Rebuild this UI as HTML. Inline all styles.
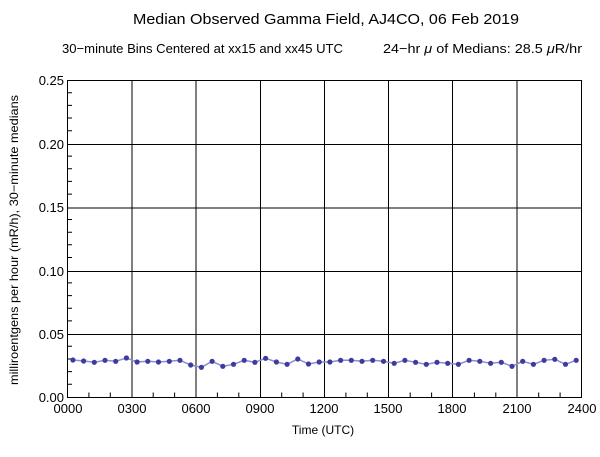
<!DOCTYPE html>
<html><head><meta charset="utf-8"><style>body{margin:0;background:#fff}svg{display:block}text{font-family:"Liberation Sans",sans-serif;fill:#000}</style></head><body>
<svg width="600" height="457" viewBox="0 0 600 457">
<text x="133" y="24" font-size="15" textLength="386" lengthAdjust="spacingAndGlyphs">Median Observed Gamma Field, AJ4CO, 06 Feb 2019</text>
<text x="62" y="53" font-size="13" textLength="281" lengthAdjust="spacingAndGlyphs">30−minute Bins Centered at xx15 and xx45 UTC</text>
<text x="383" y="53" font-size="13" textLength="199" lengthAdjust="spacingAndGlyphs">24−hr <tspan font-style="italic">μ</tspan> of Medians: 28.5 <tspan font-style="italic">μ</tspan>R/hr</text>
<g stroke="#000" stroke-width="1" fill="none">
<rect x="67.5" y="80.5" width="514" height="317"/>
<path d="M132 80V397M196 80V397M260.5 80V397M324.5 80V397M388.5 80V397M452.5 80V397M517 80V397"/>
<path d="M67 144.5H582M67 208H582M67 271.5H582M67 334.5H582"/>
</g>
<g stroke="#000" stroke-width="1" id="ticks"></g>
<g font-size="13" text-anchor="end">
<text x="64" y="85">0.25</text><text x="64" y="149">0.20</text><text x="64" y="212">0.15</text><text x="64" y="276">0.10</text><text x="64" y="339">0.05</text><text x="64" y="402">0.00</text>
</g>
<g font-size="13" text-anchor="middle">
<text x="68" y="413">0000</text><text x="132" y="413">0300</text><text x="196" y="413">0600</text><text x="260" y="413">0900</text><text x="324" y="413">1200</text><text x="388" y="413">1500</text><text x="452" y="413">1800</text><text x="517" y="413">2100</text><text x="582" y="413">2400</text>
</g>
<text x="323" y="434" font-size="12" text-anchor="middle">Time (UTC)</text>
<text transform="translate(18,240) rotate(-90)" font-size="12" text-anchor="middle" textLength="290" lengthAdjust="spacingAndGlyphs">milliroentgens per hour (mR/h), 30−minute medians</text>
<g id="data"></g>
</svg>
<script>
var ns="http://www.w3.org/2000/svg",t=document.getElementById("ticks"),s="";
for(var i=1;i<25;i++){if(i%3==0)continue;var x=67.5+i*514/24;s+="M"+x.toFixed(1)+" 397V392.5"}
for(var j=1;j<25;j++){if(j%5==0)continue;var y=397-j*317/25;s+="M67.5 "+y.toFixed(1)+"H72"}
var p=document.createElementNS(ns,"path");p.setAttribute("d",s);t.appendChild(p);
var ys=[360,361,362.3,360.3,361.3,358,362,361.3,362,361.3,360.3,365,367.3,361.3,366.3,364.3,360.3,362.3,358.3,362,364.3,359,364,362,362,360.3,360.3,361.3,360.3,361.3,363.3,360.3,362.3,364.3,362.3,363.3,364.3,360.3,361.3,363.3,362.3,366.3,361.3,364.3,360.3,359.3,364.3,360.3];
var d=document.getElementById("data"),pts=[];
for(var k=0;k<48;k++){pts.push((67.5+5.36+10.71*k).toFixed(1)+","+ys[k])}
var pl=document.createElementNS(ns,"polyline");pl.setAttribute("points",pts.join(" "));pl.setAttribute("fill","none");pl.setAttribute("stroke","#8c8cd0");pl.setAttribute("stroke-width","1.5");d.appendChild(pl);
for(var k=0;k<48;k++){var c=document.createElementNS(ns,"circle");c.setAttribute("cx",(67.5+5.36+10.71*k).toFixed(1));c.setAttribute("cy",ys[k]);c.setAttribute("r","2.6");c.setAttribute("fill","#3c3c9e");d.appendChild(c)}
</script>
</body></html>
